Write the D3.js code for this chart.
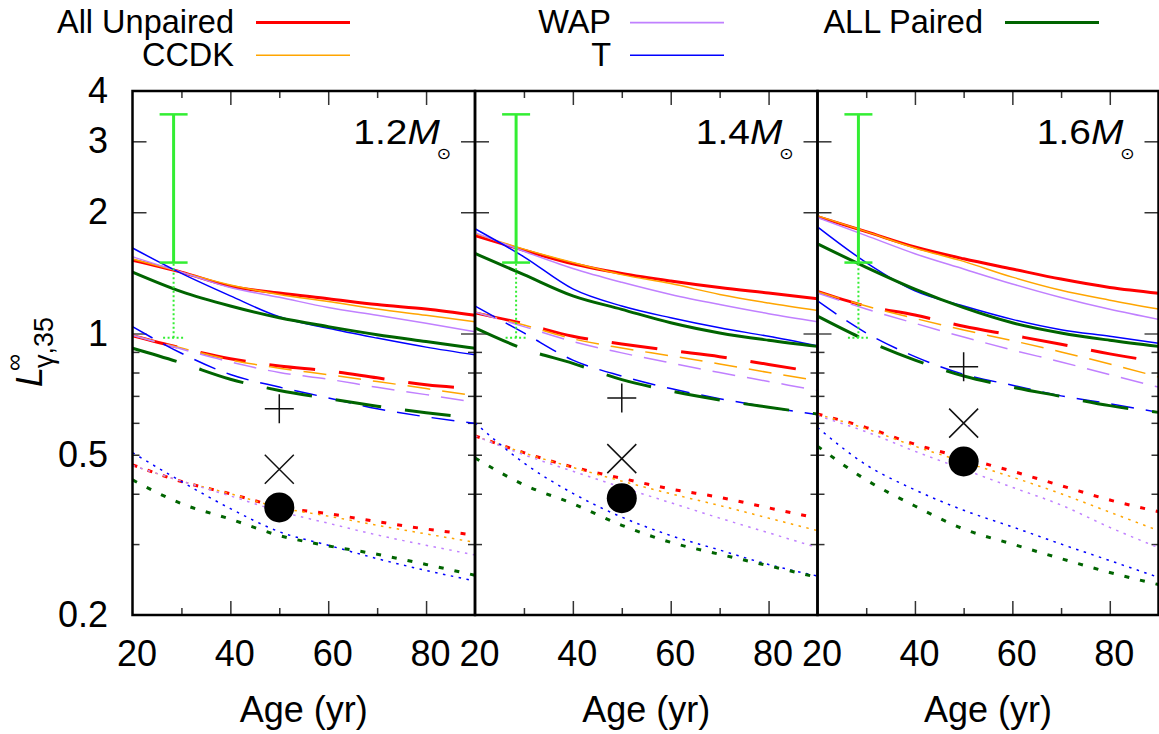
<!DOCTYPE html>
<html><head><meta charset="utf-8">
<script src="https://cdn.jsdelivr.net/npm/d3@7"></script>
<style>
body{margin:0;background:#fff}
svg{display:block}
text{font-family:"Liberation Sans",Arial,Helvetica,sans-serif;fill:#000}
</style>
</head><body>
<svg id="c" width="1159" height="734"></svg>
<script>
// ---------------- data ----------------
const ages = [20,30,40,50,60,70,80,90];
const panelMasses = ["1.2","1.4","1.6"];
const seriesNames = ["All Unpaired","CCDK","WAP","T","ALL Paired"];
const seriesColors = ["#ff0000","#ffa500","#c080ff","#0000ff","#006400"];

// order of rows: All Unpaired, CCDK, WAP, T, ALL Paired
const solid12 = [
 [1.52,1.42,1.31,1.26,1.22,1.18,1.15,1.11],
 [1.53,1.42,1.32,1.25,1.20,1.15,1.11,1.07],
 [1.55,1.42,1.30,1.23,1.16,1.11,1.06,1.01],
 [1.63,1.41,1.24,1.10,1.03,0.974,0.925,0.885],
 [1.42,1.27,1.17,1.094,1.04,0.993,0.955,0.919]];
const dashed12 = [
 [0.987,0.92,0.866,0.83,0.808,0.776,0.746,0.73],
 [0.99,0.92,0.86,0.82,0.79,0.76,0.73,0.70],
 [0.99,0.915,0.85,0.80,0.77,0.735,0.705,0.675],
 [1.04,0.893,0.791,0.736,0.692,0.65,0.621,0.598],
 [0.919,0.845,0.77,0.722,0.689,0.66,0.636,0.617]];
const dotted12 = [
 [0.472,0.429,0.40,0.371,0.357,0.341,0.327,0.316],
 [0.47,0.43,0.40,0.37,0.352,0.334,0.318,0.303],
 [0.47,0.43,0.395,0.362,0.338,0.316,0.298,0.282],
 [0.506,0.429,0.3675,0.322,0.298,0.276,0.258,0.243],
 [0.433,0.378,0.346,0.315,0.297,0.283,0.267,0.251]];

const solid14 = [
 [1.75,1.61,1.49,1.41,1.35,1.30,1.26,1.22],
 [1.77,1.62,1.50,1.40,1.33,1.25,1.19,1.14],
 [1.78,1.60,1.45,1.34,1.25,1.18,1.12,1.07],
 [1.82,1.55,1.29,1.17,1.094,1.033,0.984,0.932],
 [1.58,1.40,1.24,1.148,1.063,1.003,0.962,0.929]];
const dashed14 = [
 [1.125,1.057,0.984,0.942,0.907,0.876,0.838,0.80],
 [1.13,1.05,0.97,0.92,0.88,0.84,0.80,0.763],
 [1.13,1.04,0.955,0.895,0.845,0.80,0.76,0.722],
 [1.17,1.003,0.859,0.784,0.73,0.689,0.656,0.629],
 [1.033,0.916,0.843,0.768,0.72,0.684,0.656,0.631]];
const dotted14 = [
 [0.557,0.506,0.466,0.437,0.411,0.392,0.369,0.348],
 [0.557,0.505,0.465,0.43,0.40,0.374,0.348,0.324],
 [0.557,0.50,0.455,0.415,0.38,0.348,0.32,0.294],
 [0.60,0.477,0.401,0.35,0.315,0.29,0.267,0.25],
 [0.491,0.421,0.378,0.334,0.303,0.283,0.265,0.248]];

const solid16 = [
 [1.95,1.79,1.64,1.533,1.446,1.365,1.301,1.259],
 [1.96,1.79,1.63,1.51,1.38,1.28,1.21,1.15],
 [1.94,1.75,1.578,1.446,1.327,1.228,1.148,1.084],
 [1.84,1.50,1.276,1.17,1.084,1.022,0.984,0.946],
 [1.67,1.46,1.289,1.159,1.063,1.003,0.962,0.929]];
const dashed16 = [
 [1.272,1.17,1.111,1.042,0.99,0.94,0.89,0.85],
 [1.27,1.17,1.09,1.02,0.96,0.90,0.84,0.78],
 [1.26,1.15,1.06,0.98,0.91,0.85,0.79,0.736],
 [1.205,1.003,0.876,0.792,0.744,0.70,0.669,0.637],
 [1.104,0.962,0.859,0.784,0.736,0.698,0.662,0.637]];
const dotted16 = [
 [0.631,0.584,0.531,0.491,0.455,0.419,0.386,0.361],
 [0.63,0.58,0.525,0.48,0.44,0.40,0.36,0.324],
 [0.625,0.57,0.51,0.46,0.415,0.375,0.33,0.294],
 [0.584,0.472,0.409,0.364,0.331,0.30,0.273,0.248],
 [0.525,0.433,0.373,0.327,0.30,0.276,0.255,0.238]];

const markerAge = 50;
const plusValues = [0.65,0.692,0.827];
const crossValues = [0.46,0.489,0.599];
const circleValues = [0.37,0.39,0.481];
const errAge = 28.4;
const errSolid = [1.5,3.5];
const errDotted = [0.976,1.5];

const yTickLabels = [0.2,0.5,1,2,3,4];
const yMajorTicks = [2,3];
const yUnitTick = [1];
const yMinorTicks = [0.3,0.4,0.5,0.6,0.7,0.8,0.9];
const xMajorTicks = [40,60,80];
const xMinorTicks = [30,50,70];
const xTickLabels = [20,40,60,80];

// ---------------- drawing ----------------
const panelData = [[solid12,dashed12,dotted12],[solid14,dashed14,dotted14],[solid16,dashed16,dotted16]];
const svg = d3.select("#c");
const plotTop = 91, plotBottom = 615;
const edges = [132.5,475,817.5,1158.5];
const thick = [true,false,false,false,true];
const y = d3.scaleLog().domain([0.2,4]).range([plotBottom,plotTop]);

function styleTicks(g, color, w){
  g.select(".domain").remove();
  g.selectAll("line").attr("stroke",color).attr("stroke-width",w);
}

panelMasses.forEach((mass,i)=>{
  const x = d3.scaleLinear().domain([20,90]).range([edges[i],edges[i+1]]);
  const g = svg.append("g");
  const L = edges[i], R = edges[i+1];

  // ticks (inward on all four sides)
  const axes = [
    [d3.axisBottom(x).tickValues(xMajorTicks).tickSize(-14),`translate(0,${plotBottom})`,"#333",1.5],
    [d3.axisBottom(x).tickValues(xMinorTicks).tickSize(-7),`translate(0,${plotBottom})`,"#333",1.5],
    [d3.axisTop(x).tickValues(xMajorTicks).tickSize(-14),`translate(0,${plotTop})`,"#333",1.5],
    [d3.axisTop(x).tickValues(xMinorTicks).tickSize(-7),`translate(0,${plotTop})`,"#333",1.5],
    [d3.axisLeft(y).tickValues(yMajorTicks).tickSize(-14),`translate(${L},0)`,"#333",1.5],
    [d3.axisLeft(y).tickValues(yMinorTicks).tickSize(-7),`translate(${L},0)`,"#333",1.5],
    [d3.axisLeft(y).tickValues(yUnitTick).tickSize(-14),`translate(${L},0)`,"#777",2],
    [d3.axisRight(y).tickValues(yMajorTicks).tickSize(-14),`translate(${R},0)`,"#333",1.5],
    [d3.axisRight(y).tickValues(yMinorTicks).tickSize(-7),`translate(${R},0)`,"#333",1.5],
    [d3.axisRight(y).tickValues(yUnitTick).tickSize(-14),`translate(${R},0)`,"#777",2]
  ];
  axes.forEach(([ax,tr,c,w])=>{
    const a = g.append("g").attr("transform",tr).call(ax.tickFormat(""));
    styleTicks(a,c,w);
  });

  // x tick labels
  const xl = g.append("g").attr("transform",`translate(4,${plotBottom})`)
    .call(d3.axisBottom(x).tickValues(xTickLabels).tickSize(0).tickPadding(25.4).tickFormat(d=>String(d)));
  xl.select(".domain").remove();
  xl.attr("font-family",null).attr("font-size",null);
  xl.selectAll("text").attr("font-size",36);

  // x axis label
  g.append("text").attr("x",(L+R)/2).attr("y",721.7).attr("text-anchor","middle")
    .attr("font-size",36).text("Age (yr)");

  // curves
  const line = d3.line().x((d,k)=>x(ages[k])).y(d=>y(d)).curve(d3.curveMonotoneX);
  const styles = ["solid","dashed","dotted"];
  panelData[i].forEach((grp,gi)=>{
    grp.forEach((vals,si)=>{
      const w = thick[si] ? 3 : 1.5;
      let dash = null;
      if(styles[gi]==="dashed") dash = thick[si] ? "46,24" : "23,12";
      if(styles[gi]==="dotted") dash = thick[si] ? "5,11" : "2.5,5.5";
      g.append("path").attr("d",line(vals)).attr("fill","none")
        .attr("stroke",seriesColors[si]).attr("stroke-width",w)
        .attr("stroke-dasharray",dash);
    });
  });

  // error bar
  const ex = x(errAge);
  g.append("line").attr("x1",ex).attr("x2",ex).attr("y1",y(errDotted[0])).attr("y2",y(errDotted[1]))
    .attr("stroke","#33ee33").attr("stroke-width",2).attr("stroke-dasharray","2,2.5");
  g.append("line").attr("x1",ex-10.5).attr("x2",ex+10.5).attr("y1",y(errDotted[0])).attr("y2",y(errDotted[0]))
    .attr("stroke","#33ee33").attr("stroke-width",2).attr("stroke-dasharray","2,2.5");
  g.append("line").attr("x1",ex).attr("x2",ex).attr("y1",y(errSolid[0])).attr("y2",y(errSolid[1]))
    .attr("stroke","#33ee33").attr("stroke-width",3);
  errSolid.forEach(v=>{
    g.append("line").attr("x1",ex-14).attr("x2",ex+14).attr("y1",y(v)).attr("y2",y(v))
      .attr("stroke","#33ee33").attr("stroke-width",2.5);
  });

  // markers
  const mx = x(markerAge);
  const py = y(plusValues[i]);
  g.append("path").attr("d",`M${mx-14.5},${py}H${mx+14.5}M${mx},${py-14.5}V${py+14.5}`)
    .attr("stroke","#111").attr("stroke-width",1.5).attr("fill","none");
  const cy = y(crossValues[i]);
  g.append("path").attr("d",`M${mx-14.5},${cy-14.5}L${mx+14.5},${cy+14.5}M${mx-14.5},${cy+14.5}L${mx+14.5},${cy-14.5}`)
    .attr("stroke","#111").attr("stroke-width",1.5).attr("fill","none");
  g.append("circle").attr("cx",mx).attr("cy",y(circleValues[i])).attr("r",15).attr("fill","#000");

  // panel label
  const t = g.append("text").attr("transform",`translate(${R-24},143.5) scale(1.08,1)`)
    .attr("text-anchor","end").attr("font-size",36);
  t.append("tspan").text(mass);
  t.append("tspan").attr("font-style","italic").text("M");
  t.append("tspan").attr("font-size",16).attr("font-family","DejaVu Sans").attr("font-style","italic")
    .attr("dx",-3).attr("dy",16).text("⊙");

  // frame
  g.append("rect").attr("x",L).attr("y",plotTop).attr("width",R-L).attr("height",plotBottom-plotTop)
    .attr("fill","none").attr("stroke","#000").attr("stroke-width",2.5);
});

// y tick labels (first panel)
const yl = svg.append("g").attr("transform",`translate(${edges[0]},0)`)
  .call(d3.axisLeft(y).tickValues(yTickLabels).tickSize(0).tickPadding(24.5).tickFormat(d=>String(d)));
yl.select(".domain").remove();
yl.attr("font-family",null).attr("font-size",null);
yl.selectAll("text").attr("font-size",36).attr("dy","0.32em");

// y axis label  L^∞_{γ,35}
const yg = svg.append("g").attr("transform","rotate(-90)");
yg.append("text").attr("x",-387).attr("y",42).attr("font-size",36).attr("font-style","italic").text("L");
yg.append("text").attr("x",-371).attr("y",22).attr("font-size",24).text("∞");
yg.append("text").attr("x",-368).attr("y",53).attr("font-size",27).text("γ,35");

// legend
const legTextEnd = [234,611,983];
const legLineStart = [256,630,1005];
const legBase = [33.3,66];
seriesNames.forEach((name,i)=>{
  const col = Math.floor(i/2), row = i%2;
  svg.append("text").attr("x",legTextEnd[col]).attr("y",legBase[row]).attr("text-anchor","end")
    .attr("font-size",32.5).text(name);
  svg.append("line").attr("x1",legLineStart[col]).attr("x2",legLineStart[col]+94)
    .attr("y1",legBase[row]-10.7).attr("y2",legBase[row]-10.7)
    .attr("stroke",seriesColors[i]).attr("stroke-width",thick[i]?3:1.6);
});
</script>
</body></html>
